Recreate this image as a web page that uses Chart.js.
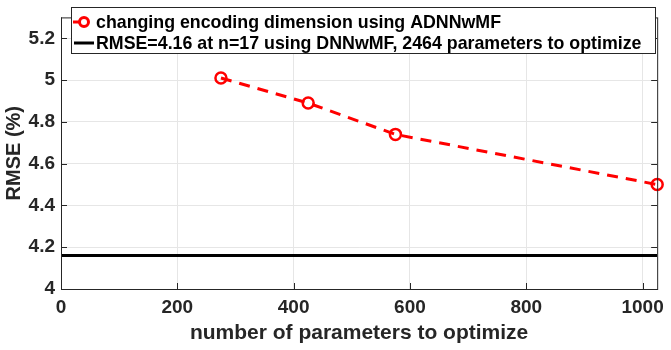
<!DOCTYPE html>
<html>
<head>
<meta charset="utf-8">
<script src="https://cdn.jsdelivr.net/npm/chart.js@4.4.0/dist/chart.umd.min.js"></script>
<style>
  html, body { margin: 0; padding: 0; background: #fff; }
  #wrap { width: 671px; height: 350px; }
</style>
</head>
<body>
<div id="wrap"><canvas id="chart" width="671" height="350"></canvas></div>
<script>
// number of parameters to optimize for each encoding dimension
const params = [275, 425, 575, 1025];
const rmseAdnn = [5.01, 4.89, 4.74, 4.5];
const baselineRmse = 4.16;
const xTicks = [0, 200, 400, 600, 800, 1000];
const yTicks = [4, 4.2, 4.4, 4.6, 4.8, 5, 5.2];
const xRange = [0, 1025];
const yRange = [4, 5.3];
const labelAdnn = 'changing encoding dimension using ADNNwMF';
const labelBase = 'RMSE=4.16 at n=17 using DNNwMF, 2464 parameters to optimize';

const FONT = '"Liberation Sans", Arial, sans-serif';

// MATLAB-style inward ticks on all four sides
const boxTicks = {
  id: 'boxTicks',
  afterDatasetsDraw(chart) {
    const { ctx, chartArea: a, scales: { x, y } } = chart;
    ctx.save();
    ctx.strokeStyle = '#262626';
    ctx.lineWidth = 1;
    ctx.beginPath();
    xTicks.forEach(v => {
      const px = Math.round(x.getPixelForValue(v)) + 0.5;
      ctx.moveTo(px, a.bottom); ctx.lineTo(px, a.bottom - 6);
      ctx.moveTo(px, a.top); ctx.lineTo(px, a.top + 6);
    });
    yTicks.forEach(v => {
      const py = Math.round(y.getPixelForValue(v)) + 0.5;
      ctx.moveTo(a.left, py); ctx.lineTo(a.left + 6, py);
      ctx.moveTo(a.right, py); ctx.lineTo(a.right - 6, py);
    });
    ctx.stroke();
    ctx.strokeRect(a.left + 0.5, a.top + 0.5, a.right - a.left, a.bottom - a.top);
    ctx.restore();
  }
};

// legend box inside the axes, top left
const boxLegend = {
  id: 'boxLegend',
  afterDraw(chart) {
    const { ctx, chartArea: a } = chart;
    const left = a.left + 10, top = 7, w = 584, h = 46;
    ctx.save();
    ctx.fillStyle = '#fff';
    ctx.fillRect(left, top, w, h);
    ctx.strokeStyle = '#262626';
    ctx.lineWidth = 1;
    ctx.strokeRect(left + 0.5, top + 0.5, w, h);
    ctx.font = 'bold 17.8px ' + FONT;
    ctx.textBaseline = 'middle';
    ctx.fillStyle = '#000';
    const r1 = top + 15, r2 = top + 36;
    const sx = left + 2, tx = left + 25;
    // red dashed entry
    ctx.strokeStyle = '#ff0000';
    ctx.lineWidth = 3;
    ctx.beginPath(); ctx.moveTo(sx, r1); ctx.lineTo(sx + 6, r1); ctx.stroke();
    ctx.beginPath(); ctx.arc(sx + 11, r1, 4.5, 0, Math.PI * 2); ctx.stroke();
    ctx.fillText(labelAdnn, tx, r1 + 1);
    // black baseline entry
    ctx.strokeStyle = '#000';
    ctx.lineWidth = 3;
    ctx.beginPath(); ctx.moveTo(sx + 1, r2); ctx.lineTo(sx + 21, r2); ctx.stroke();
    ctx.fillText(labelBase, tx, r2 + 1);
    ctx.restore();
  }
};

new Chart(document.getElementById('chart'), {
  type: 'scatter',
  data: {
    datasets: [
      {
        label: labelAdnn,
        data: params.map((p, i) => ({ x: p, y: rmseAdnn[i] })),
        showLine: true,
        borderColor: '#ff0000',
        borderWidth: 3,
        borderDash: [11, 8],
        pointRadius: 5.5,
        pointBorderWidth: 2.5,
        pointBorderColor: '#ff0000',
        pointBackgroundColor: 'rgba(0,0,0,0)',
        clip: false
      },
      {
        label: labelBase,
        data: xRange.map(v => ({ x: v, y: baselineRmse })),
        showLine: true,
        borderColor: '#000',
        borderWidth: 3,
        pointRadius: 0
      }
    ]
  },
  options: {
    responsive: false,
    animation: false,
    layout: { padding: { top: 3, right: 10, left: 2, bottom: 0 } },
    plugins: { legend: { display: false }, tooltip: { enabled: false } },
    scales: {
      x: {
        type: 'linear',
        min: xRange[0], max: xRange[1],
        afterBuildTicks: s => { s.ticks = xTicks.map(v => ({ value: v })); },
        afterFit: s => { s.height = 61; },
        grid: { color: '#e6e6e6', drawTicks: false },
        border: { display: false },
        ticks: {
          color: '#262626', padding: 7, callback: v => String(v),
          font: { family: FONT, size: 19, weight: 'bold' }
        },
        title: {
          display: true, text: 'number of parameters to optimize', color: '#262626',
          padding: { top: 0, bottom: 4 },
          font: { family: FONT, size: 21, weight: 'bold' }
        }
      },
      y: {
        type: 'linear',
        min: yRange[0], max: yRange[1],
        afterBuildTicks: s => { s.ticks = yTicks.map(v => ({ value: v })); },
        afterFit: s => { s.width = 59; },
        grid: { color: '#e6e6e6', drawTicks: false },
        border: { display: false },
        ticks: {
          color: '#262626', padding: 6, callback: v => String(v),
          font: { family: FONT, size: 19, weight: 'bold' }
        },
        title: {
          display: true, text: 'RMSE (%)', color: '#262626',
          padding: { top: 0, bottom: 0 },
          font: { family: FONT, size: 20, weight: 'bold' }
        }
      }
    }
  },
  plugins: [boxTicks, boxLegend]
});
</script>
</body>
</html>
